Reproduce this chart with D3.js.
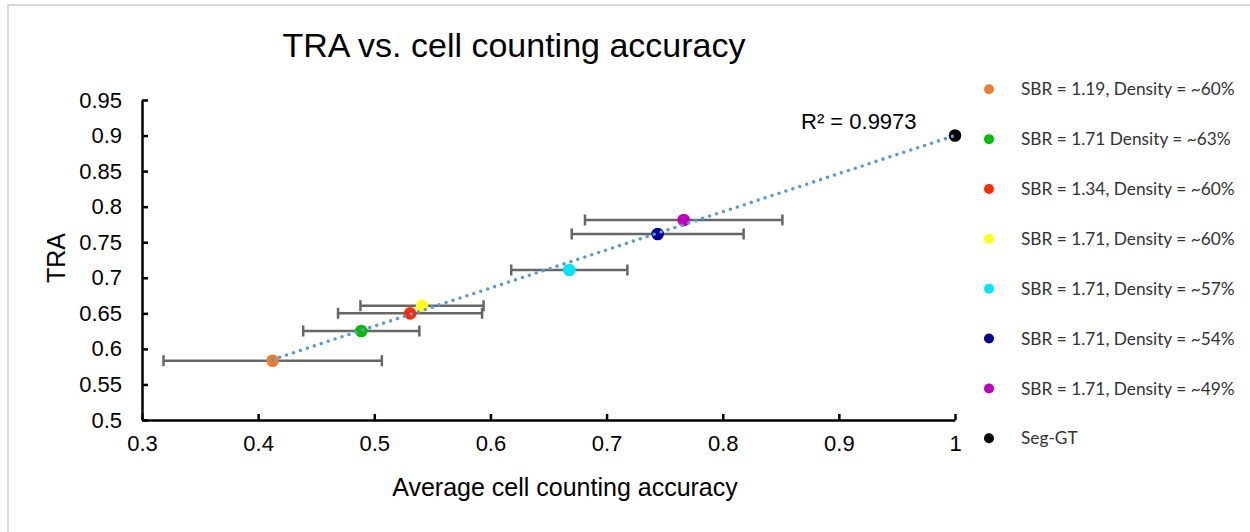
<!DOCTYPE html>
<html>
<head>
<meta charset="utf-8">
<script src="https://cdn.jsdelivr.net/npm/d3@7/dist/d3.min.js"></script>
<style>
  html, body { margin: 0; padding: 0; background: #fff; }
  svg { display: block; }
</style>
</head>
<body>
<script>
// Conditions (legend order) and their measurements
const labels = [
  "SBR = 1.19, Density = ~60%",
  "SBR = 1.71 Density = ~63%",
  "SBR = 1.34, Density = ~60%",
  "SBR = 1.71, Density = ~60%",
  "SBR = 1.71, Density = ~57%",
  "SBR = 1.71, Density = ~54%",
  "SBR = 1.71, Density = ~49%",
  "Seg-GT"
];
const accuracy = [0.4125, 0.4888, 0.5308, 0.5411, 0.6679, 0.7440, 0.7664, 1.0];
const tra      = [0.5834, 0.6252, 0.6500, 0.6607, 0.7109, 0.7616, 0.7813, 0.9000];
const accErr   = [0.094, 0.050, 0.062, 0.053, 0.050, 0.074, 0.085, 0];
const colors   = ["#ED7D31", "#00BF00", "#FF2A00", "#FFFF1A", "#00E5FF", "#000099", "#C000C0", "#000000"];
const xTicks   = [0.3, 0.4, 0.5, 0.6, 0.7, 0.8, 0.9, 1.0];
const yTicks   = [0.5, 0.55, 0.6, 0.65, 0.7, 0.75, 0.8, 0.85, 0.9, 0.95];
const rSquaredLabel = "R² = 0.9973";

const W = 1250, H = 532;
const plot = { left: 142, right: 955, top: 100, bottom: 420 };

const svg = d3.select("body").append("svg")
  .attr("width", W).attr("height", H)
  .style("font-family", "'Liberation Sans', Arial, sans-serif");

svg.append("rect").attr("width", W).attr("height", H).attr("fill", "#fff");

// light frame along the top and left edges
svg.append("path")
  .attr("d", `M8,${H} L8,5 L${W},5`)
  .attr("fill", "none").attr("stroke", "#d9d9d9").attr("stroke-width", 2);

const x = d3.scaleLinear().domain([0.3, 1.0]).range([plot.left, plot.right]);
const y = d3.scaleLinear().domain([0.5, 0.95]).range([plot.bottom, plot.top]);
const fmt = d => String(+d.toFixed(2));

// axes
const gx = svg.append("g").attr("transform", `translate(0,${plot.bottom})`)
  .call(d3.axisBottom(x).tickValues(xTicks).tickFormat(fmt)
    .tickSizeInner(-6).tickSizeOuter(0).tickPadding(15));
const gy = svg.append("g").attr("transform", `translate(${plot.left},0)`)
  .call(d3.axisLeft(y).tickValues(yTicks).tickFormat(fmt)
    .tickSizeInner(-6).tickSizeOuter(0).tickPadding(20));
[gx, gy].forEach(g => {
  g.select(".domain").attr("stroke", "#000").attr("stroke-width", 2.5);
  g.selectAll(".tick line").attr("stroke", "#000").attr("stroke-width", 2.5);
  g.selectAll(".tick text").attr("fill", "#000")
    .style("font-family", "'Liberation Sans', Arial, sans-serif").style("font-size", "22px");
});

const data = labels.map((label, i) => ({
  label, x: accuracy[i], y: tra[i], err: accErr[i], color: colors[i]
}));

// horizontal error bars
const eb = svg.append("g").attr("stroke", "#666").attr("stroke-width", 2.5).attr("fill", "none");
data.filter(d => d.err > 0).forEach(d => {
  const x0 = x(d.x - d.err), x1 = x(d.x + d.err), yy = y(d.y);
  eb.append("line").attr("x1", x0).attr("x2", x1).attr("y1", yy).attr("y2", yy);
  eb.append("line").attr("x1", x0).attr("x2", x0).attr("y1", yy - 5.5).attr("y2", yy + 5.5);
  eb.append("line").attr("x1", x1).attr("x2", x1).attr("y1", yy - 5.5).attr("y2", yy + 5.5);
});

// markers
svg.append("g").selectAll("circle").data(data).join("circle")
  .attr("cx", d => x(d.x)).attr("cy", d => y(d.y)).attr("r", 6.3)
  .attr("fill", d => d.color);

// least-squares linear trend over all points
const mx = d3.mean(accuracy), my = d3.mean(tra);
const sxy = d3.sum(accuracy, (v, i) => (v - mx) * (tra[i] - my));
const sxx = d3.sum(accuracy, v => (v - mx) * (v - mx));
const slope = sxy / sxx, intercept = my - slope * mx;
const [xmin, xmax] = d3.extent(accuracy);
svg.append("line")
  .attr("x1", x(xmin)).attr("y1", y(intercept + slope * xmin))
  .attr("x2", x(xmax)).attr("y2", y(intercept + slope * xmax))
  .attr("stroke", "#5B9BD5").attr("stroke-width", 3.6)
  .attr("stroke-linecap", "round").attr("stroke-dasharray", "0 7.3");

svg.append("text").attr("x", 801).attr("y", 129)
  .style("font-size", "22px").attr("fill", "#000").text(rSquaredLabel);

// titles
svg.append("text").attr("x", 514).attr("y", 57).attr("text-anchor", "middle")
  .style("font-size", "34px").attr("fill", "#000").text("TRA vs. cell counting accuracy");
svg.append("text").attr("x", 565).attr("y", 496).attr("text-anchor", "middle")
  .style("font-size", "25px").attr("fill", "#000").text("Average cell counting accuracy");
svg.append("text").attr("transform", "translate(65,258) rotate(-90)").attr("text-anchor", "middle")
  .style("font-size", "25px").attr("fill", "#000").text("TRA");

// legend
const ly = d3.scalePoint().domain(labels).range([89.3, 438.3]);
const lg = svg.append("g").selectAll("g").data(data).join("g")
  .attr("transform", d => `translate(0,${ly(d.label)})`);
lg.append("circle").attr("cx", 989).attr("cy", 0).attr("r", 5).attr("fill", d => d.color);
lg.append("text").attr("x", 1021).attr("y", 0).attr("dy", "0.35em")
  .style("font-family", "Lato, 'Open Sans', sans-serif").style("font-size", "17.3px")
  .attr("fill", "#333").text(d => d.label);
</script>
</body>
</html>
